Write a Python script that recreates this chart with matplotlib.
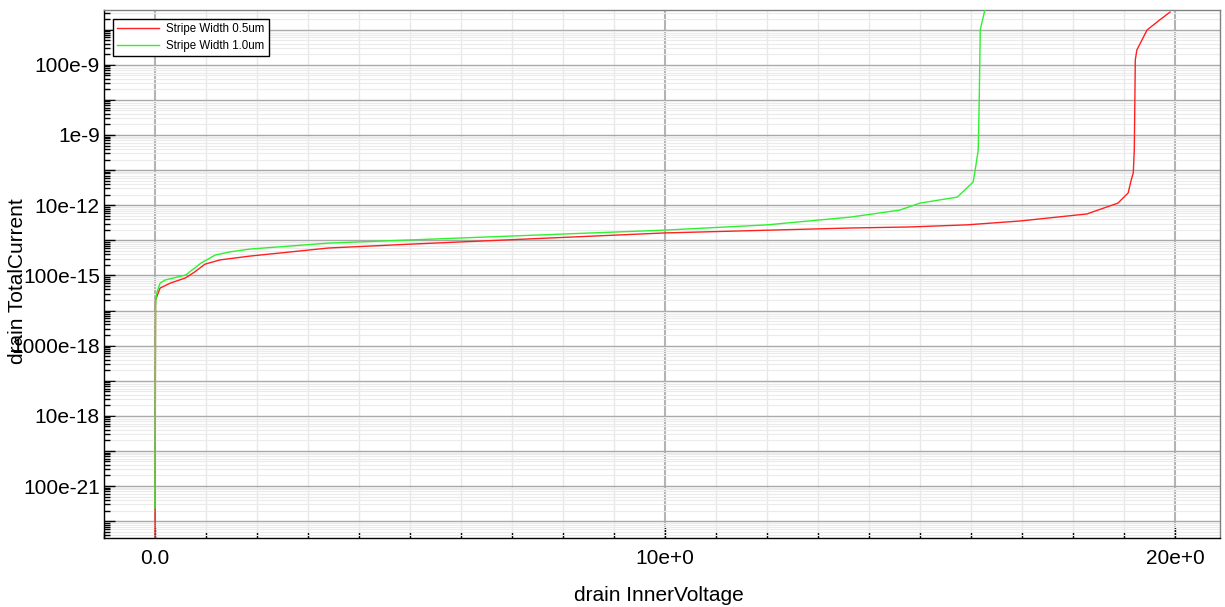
import numpy as np
import matplotlib
matplotlib.use('Agg')
import matplotlib.pyplot as plt
from matplotlib.ticker import FixedLocator, NullFormatter

# ── data (V, log10 I) ────────────────────────────────────────────────────────
v_05 = [0.0, 0.01, 0.1, 0.3, 0.6, 0.78, 0.98, 1.27, 1.86, 3.4, 5.0, 10.0,
        13.63, 14.8, 15.92, 16.96, 18.27, 18.88, 19.08, 19.14, 19.18, 19.2,
        19.22, 19.25, 19.45, 19.7, 19.9]
logi_05 = [-22.0, -13.70, -13.36, -13.22, -13.07, -12.90, -12.68, -12.56,
           -12.45, -12.22, -12.11, -11.79, -11.65, -11.62, -11.56, -11.45,
           -11.25, -10.94, -10.65, -10.28, -10.08, -9.43, -6.86, -6.58,
           -6.01, -5.72, -5.50]

v_10 = [0.0, 0.01, 0.02, 0.04, 0.1, 0.2, 0.6, 0.9, 1.18, 1.47, 1.86, 3.4,
        5.0, 10.0, 12.0, 13.63, 14.6, 15.0, 15.73, 16.04, 16.08, 16.14,
        16.16, 16.18, 16.27]
logi_10 = [-19.63, -13.90, -13.62, -13.47, -13.22, -13.13, -12.99, -12.65,
           -12.42, -12.33, -12.25, -12.08, -11.99, -11.71, -11.56, -11.34,
           -11.14, -10.94, -10.77, -10.34, -10.00, -9.43, -8.0, -6.0, -5.44]

ytick_vals = [1e-19, 1e-17, 1e-15, 1e-13, 1e-11, 1e-9, 1e-7]
ytick_labels = ['100e-21', '10e-18', '1000e-18', '100e-15', '10e-12', '1e-9', '100e-9']
xtick_vals = [0, 10, 20]
xtick_labels = ['0.0', '10e+0', '20e+0']

plt.rcParams['font.family'] = ['Liberation Sans', 'DejaVu Sans']

fig = plt.figure(figsize=(12.25, 6.07), dpi=100)
ax = fig.add_axes([0.0849, 0.1137, 0.9110, 0.8698])

ax.plot(v_05, 10 ** np.array(logi_05), color='#ff2020', lw=1.0,
        label='Stripe Width 0.5um', zorder=3)
ax.plot(v_10, 10 ** np.array(logi_10), color='#30f030', lw=1.0,
        label='Stripe Width 1.0um', zorder=3)

ax.set_yscale('log')

# major/minor ticks
decades = [10.0 ** k for k in range(-21, -4)]
minors = [m * d for d in decades for m in range(2, 10)]
ax.yaxis.set_major_locator(FixedLocator(decades))
ax.yaxis.set_minor_locator(FixedLocator(minors))
ax.yaxis.set_minor_formatter(NullFormatter())
ax.set_yticks(decades)
ax.set_yticklabels([ytick_labels[ytick_vals.index(d)] if d in ytick_vals else ''
                    for d in decades])

ax.set_xticks(xtick_vals)
ax.set_xticklabels(xtick_labels)
ax.xaxis.set_minor_locator(FixedLocator(range(-1, 21)))

# limits after ticks so set_yticks does not widen them
ax.set_xlim(-1.0, 20.88)
ax.set_ylim(10 ** -20.48, 10 ** -5.44)

ax.tick_params(axis='both', which='major', direction='in', length=8,
               width=1, labelsize=15, color='black')
ax.tick_params(axis='both', which='minor', direction='in', length=4,
               width=1, color='black')
ax.tick_params(axis='x', which='major', pad=8)
ax.tick_params(axis='y', which='major', pad=3)

# grid
ax.grid(True, which='minor', axis='y', color='#ebebeb', lw=0.8)
ax.grid(True, which='major', axis='y', color='#a8a8a8', lw=1.0)
ax.grid(True, which='minor', axis='x', color='#e8e8e8', lw=1.0)
ax.grid(True, which='major', axis='x', color='#b4b4b4', lw=1.5)
ax.set_axisbelow(True)

for s in ('left', 'bottom'):
    ax.spines[s].set_color('black')
    ax.spines[s].set_linewidth(1.0)
for s in ('top', 'right'):
    ax.spines[s].set_color('#808080')
    ax.spines[s].set_linewidth(1.0)

ax.set_xlabel('drain InnerVoltage', fontsize=15)
ax.set_ylabel('drain TotalCurrent', fontsize=15)
ax.xaxis.set_label_coords(0.497, -0.091)
ax.yaxis.set_label_coords(-0.069, 0.487)

leg = ax.legend(loc='upper left', fontsize=8.3, frameon=True, fancybox=False,
                edgecolor='black', framealpha=1, borderaxespad=0.75,
                handlelength=3.6, borderpad=0.4, labelspacing=0.4,
                handletextpad=0.6)
leg.get_frame().set_linewidth(1.0)

fig.savefig('out.png', dpi=100)
